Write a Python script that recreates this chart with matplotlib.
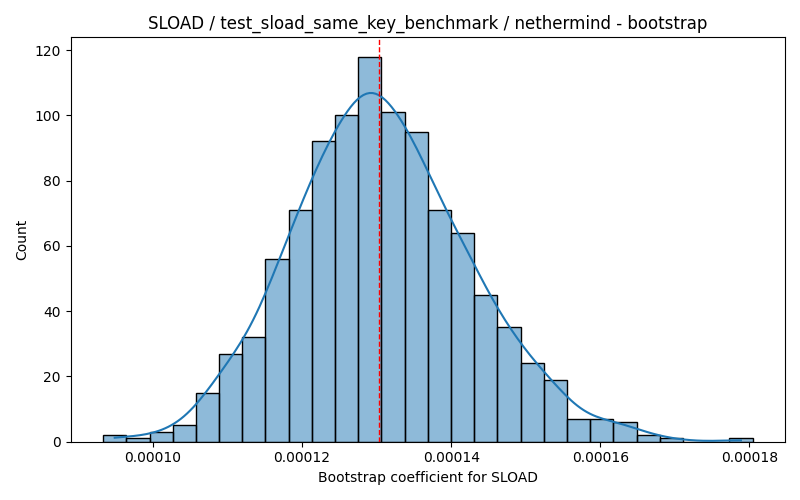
import numpy as np
import seaborn as sns
import matplotlib
matplotlib.use('Agg')
from matplotlib import pyplot as plt

# bin edges and counts
bin_start = 9.330e-05
bin_stop = 1.8044e-04
counts = [2, 1, 3, 5, 15, 27, 32, 56, 71, 92, 100, 118, 101, 95,
          71, 64, 45, 35, 24, 19, 7, 7, 6, 2, 1, 0, 0, 1]
point_estimate = 1.3032e-04

edges = np.linspace(bin_start, bin_stop, len(counts) + 1)
centers = (edges[:-1] + edges[1:]) / 2
# rebuild the sample from the bin centres
samples = np.repeat(centers, counts)

fig, ax = plt.subplots(figsize=(8, 5), dpi=100)
sns.histplot(samples, bins=edges, kde=True, ax=ax)
ax.axvline(point_estimate, color='red', linestyle='--', linewidth=1)

ax.set_title('SLOAD / test_sload_same_key_benchmark / nethermind - bootstrap')
ax.set_xlabel('Bootstrap coefficient for SLOAD')
ax.set_ylabel('Count')

plt.tight_layout()
plt.savefig('out.png')
